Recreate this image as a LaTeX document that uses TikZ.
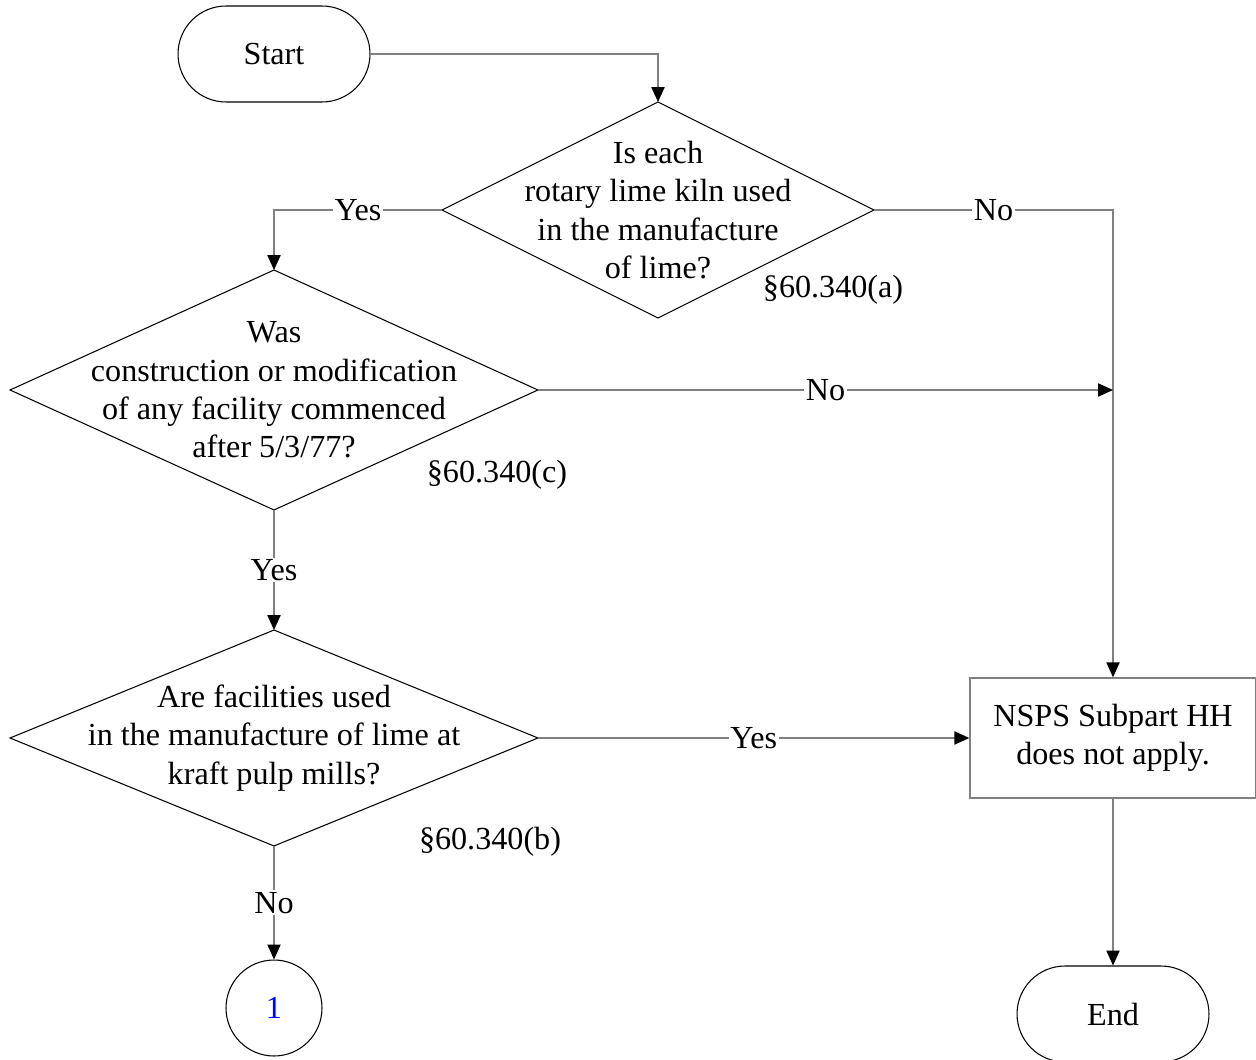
\documentclass[tikz,border=0pt]{standalone}
\usepackage{fontspec}
\setmainfont{Liberation Serif}
\usetikzlibrary{shapes.geometric,shapes.misc,arrows.meta}

\tikzset{
  flowtext/.style={font=\fontsize{18.3}{21.8}\selectfont, align=center, inner sep=0pt},
  terminal/.style={rounded rectangle, draw=black, line width=0.6pt, minimum width=3.84cm, minimum height=1.92cm, flowtext},
  decision/.style={diamond, draw=black, line width=0.6pt, inner sep=0pt, outer sep=0pt},
  outcome/.style={rectangle, draw=black!50, line width=0.8pt, minimum width=5.72cm, minimum height=2.4cm, flowtext},
  connector/.style={circle, draw=black, line width=0.6pt, minimum size=1.92cm, flowtext, text=blue},
  flow/.style={draw=black!50, line width=0.8pt, -{Triangle[length=8.5pt,width=7.5pt,color=black,fill=black]}},
  answer/.style={flowtext, fill=white, inner sep=1pt},
  section/.style={flowtext}
}

\begin{document}
\begin{tikzpicture}[x=0.02cm, y=-0.02cm]
		%%%%% START %%%%%
		\useasboundingbox (0, 0) rectangle (1256, 1060);
		
		\node[terminal] (start) at (274, 54) {Start};
		
		\node[decision, minimum width=8.64cm, minimum height=4.32cm] (kiln) at (658, 210) {};
		\node[flowtext] at (kiln) {Is each\\rotary lime kiln used\\in the manufacture\\of lime?};
		\node[section] (seca) at (833, 290) {\S60.340(a)};
		
		\node[decision, minimum width=10.56cm, minimum height=4.8cm] (built) at (274, 390) {};
		\node[flowtext] at (built) {Was\\construction or modification\\of any facility commenced\\after 5/3/77?};
		\node[section] (secc) at (497, 475) {\S60.340(c)};
		
		\node[decision, minimum width=10.56cm, minimum height=4.32cm] (kraft) at (274, 738) {};
		\node[flowtext] at (kraft) {Are facilities used\\in the manufacture of lime at\\kraft pulp mills?};
		\node[section] (secb) at (490, 842) {\S60.340(b)};
		
		\node[outcome] (na) at (1113, 738) {NSPS Subpart HH\\does not apply.};
		
		\node[connector] (one) at (274, 1008) {1};
		\node[terminal] (end) at (1113, 1014) {End};
		
		\coordinate (join) at (na.north |- built.east);
		
		%%%%% CONNECTORS %%%%%
		\draw[flow] (start.east) -| (kiln.north);
		\draw[flow] (kiln.west) -| node[answer, pos=0.25] {Yes} (built.north);
		\draw[flow] (kiln.east) -| node[answer, pos=0.25] {No} (na.north);
		\draw[flow] (built.east) -- node[answer] {No} (join);
		\draw[flow] (built.south) -- node[answer] {Yes} (kraft.north);
		\draw[flow] (kraft.east) -- node[answer] {Yes} (na.west);
		\draw[flow] (kraft.south) -- node[answer] {No} (one.north);
		\draw[flow] (na.south) -- (end.north);
		
		%%%%% END %%%%%
	\end{tikzpicture}
\end{document}
